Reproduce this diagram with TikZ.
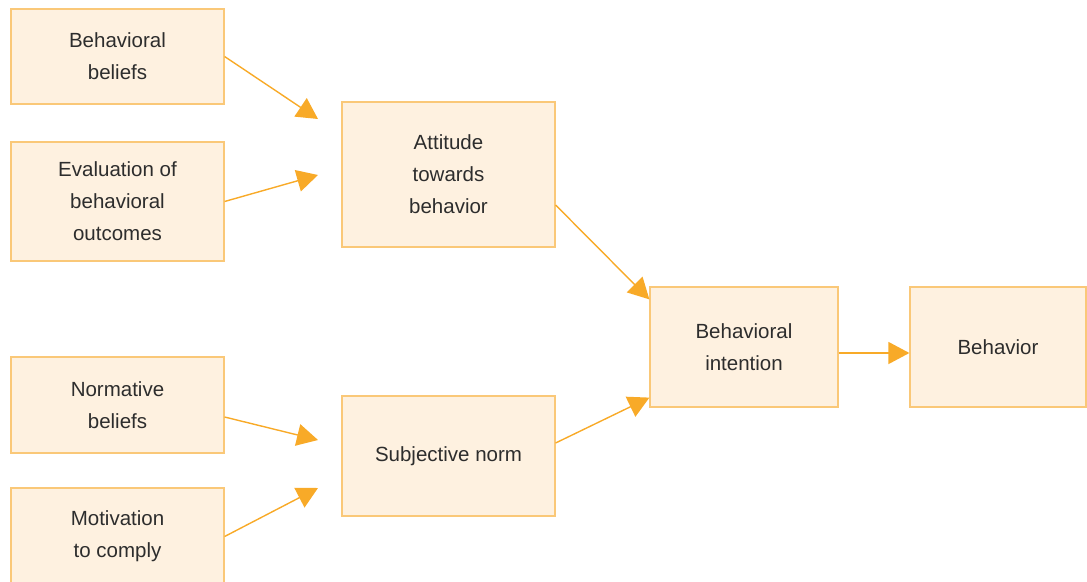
\documentclass[tikz,border=0pt]{standalone}
\usepackage{fontspec}
\setmainfont{Liberation Sans}
\usetikzlibrary{arrows.meta}
\definecolor{boxfill}{RGB}{254,241,224}
\definecolor{boxline}{RGB}{250,200,120}
\definecolor{arrowc}{RGB}{248,170,40}
\definecolor{txt}{RGB}{45,45,45}
\begin{document}
\begin{tikzpicture}[x=1pt,y=-1pt,
  box/.style={draw=boxline, fill=boxfill, line width=1.2pt, inner sep=0pt,
    align=center, text=txt, font=\fontsize{20.5}{32}\selectfont},
  conn/.style={draw=arrowc, line width=1.4pt, -{Triangle[length=21pt,width=22pt]}}]
\useasboundingbox (0,0) rectangle (1087,581);
\node[box, minimum width=213pt, minimum height=95pt] (bb) at (117.5,56.5) {Behavioral\\beliefs};
\node[box, minimum width=213pt, minimum height=119pt] (ebo) at (117.5,201.5) {Evaluation of\\behavioral\\outcomes};
\node[box, minimum width=213pt, minimum height=96pt] (nb) at (117.5,405) {Normative\\beliefs};
\node[box, minimum width=213pt, minimum height=97pt] (mc) at (117.5,536.5) {Motivation\\to comply};
\node[box, minimum width=213pt, minimum height=145pt] (atb) at (448.5,174.5) {Attitude\\towards\\behavior};
\node[box, minimum width=213pt, minimum height=120pt] (sn) at (448.5,456) {Subjective norm};
\node[box, minimum width=188pt, minimum height=120pt] (bi) at (744,347) {Behavioral\\intention};
\node[box, minimum width=176pt, minimum height=120pt] (bh) at (998,347) {Behavior};
\coordinate (t1) at (318,119);
\coordinate (t2) at (318,175);
\coordinate (t3) at (318,440);
\coordinate (t4) at (318,488);
\draw[conn] (bb.east) -- (t1);
\draw[conn] (ebo.east) -- (t2);
\draw[conn] ([yshift=-12pt]nb.east) -- (t3);
\draw[conn] (mc.east) -- (t4);
\draw[conn] ([yshift=-30.5pt]atb.east) -- ([yshift=-13pt]bi.north west);
\draw[conn] ([yshift=13pt]sn.east) -- ([yshift=10pt]bi.south west);
\draw[conn] ([yshift=-6pt]bi.east) -- ([yshift=-6pt]bh.west);
\end{tikzpicture}
\end{document}
